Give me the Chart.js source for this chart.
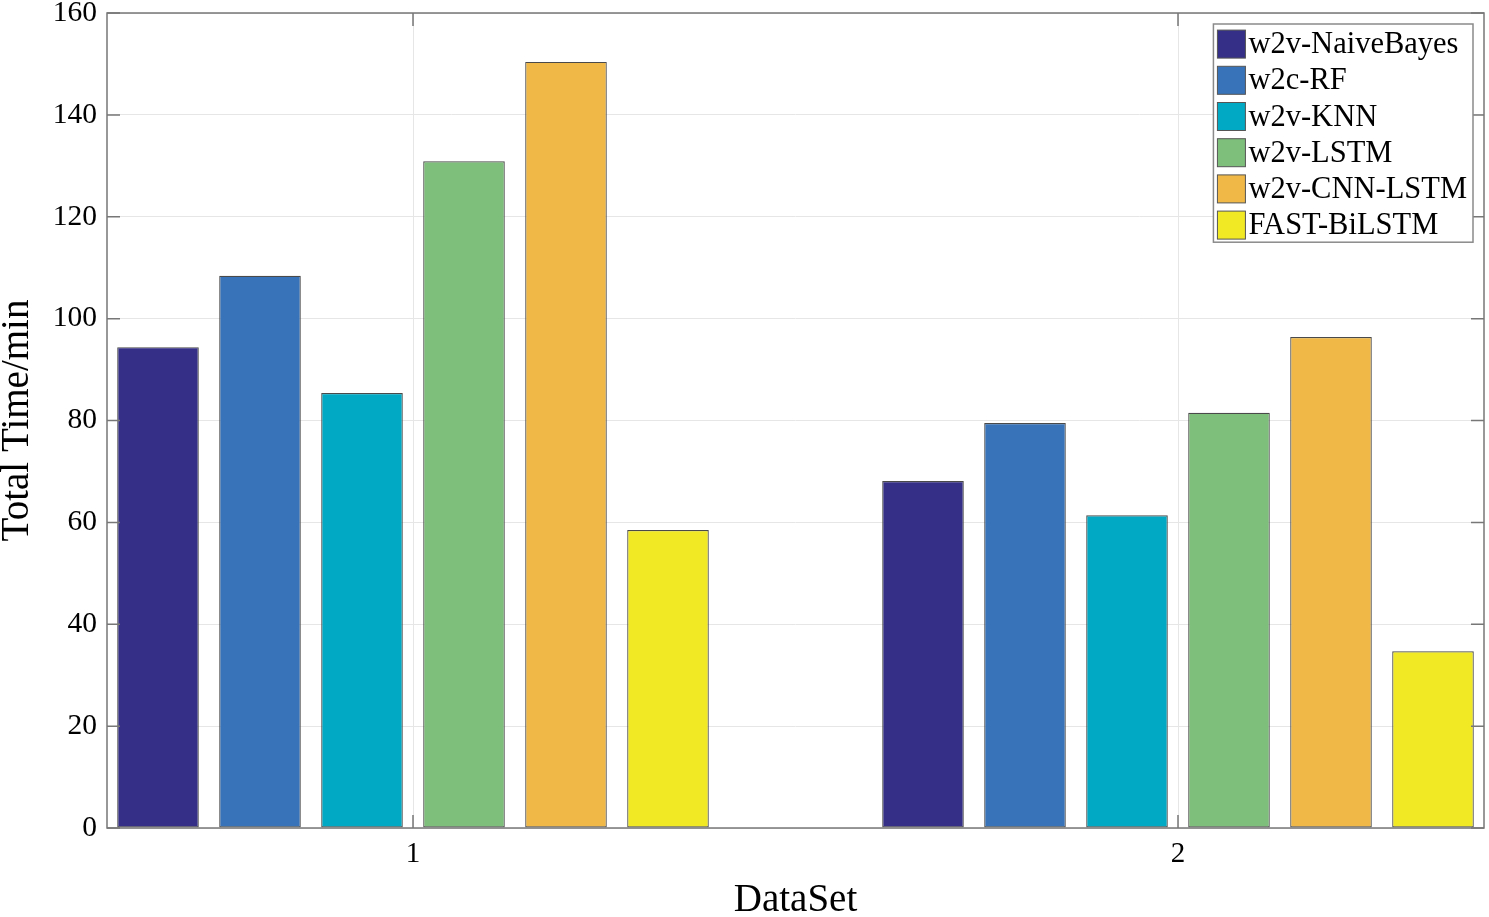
<!DOCTYPE html>
<html>
<head>
<meta charset="utf-8">
<script src="https://cdn.jsdelivr.net/npm/chart.js@4/dist/chart.umd.min.js"></script>
<style>
    html, body { margin: 0; padding: 0; background: #ffffff; }
    #wrap { width: 1489px; height: 917px; position: relative; }
</style>
</head>
<body>
<div id="wrap"><canvas id="chartTime"></canvas></div>
<script>
// data
const groups = [1, 2];
const seriesNames = ["w2v-NaiveBayes", "w2c-RF", "w2v-KNN", "w2v-LSTM", "w2v-CNN-LSTM", "FAST-BiLSTM"];
const naiveBayes = [94.4, 68.1];
const rf         = [108.4, 79.5];
const knn        = [85.4, 61.4];
const lstm       = [130.9, 81.5];
const cnnLstm    = [150.4, 96.4];
const fastBiLstm = [58.5, 34.7];
const yTicks     = [0, 20, 40, 60, 80, 100, 120, 140, 160];

const COLORS = ["#352F87", "#3873B9", "#02A9C4", "#7DBF7B", "#EFB847", "#F1E923"];
const FONT = "'Liberation Serif', 'Times New Roman', serif";
const AXIS = "#777777";

const allSeries = [naiveBayes, rf, knn, lstm, cnnLstm, fastBiLstm];

const datasets = allSeries.map((vals, i) => ({
    label: seriesNames[i],
    data: groups.map((g, j) => ({ x: g, y: vals[j] })),
    backgroundColor: COLORS[i],
    borderColor: "#4a4a4a",
    borderWidth: 1.2,
    borderSkipped: false,
    categoryPercentage: 0.8,
    barPercentage: 0.8,
}));

// frame, inward ticks (matlab style) and legend box
const matlabAxes = {
    id: "matlabAxes",
    afterDraw(chart) {
        const { ctx, chartArea: a, scales } = chart;
        const tl = 13;
        ctx.save();
        ctx.strokeStyle = AXIS;
        ctx.lineWidth = 1.5;
        ctx.strokeRect(a.left, a.top, a.right - a.left, a.bottom - a.top);
        ctx.beginPath();
        scales.y.ticks.forEach(t => {
            const py = scales.y.getPixelForValue(t.value);
            ctx.moveTo(a.left, py);  ctx.lineTo(a.left + tl, py);
            ctx.moveTo(a.right, py); ctx.lineTo(a.right - tl, py);
        });
        scales.x.ticks.forEach(t => {
            const px = scales.x.getPixelForValue(t.value);
            ctx.moveTo(px, a.bottom); ctx.lineTo(px, a.bottom - tl);
            ctx.moveTo(px, a.top);    ctx.lineTo(px, a.top + tl);
        });
        ctx.stroke();

        // legend
        ctx.font = "30.5px " + FONT;
        const ds = chart.data.datasets;
        const rowH = 36.2;
        const box = 28;
        const textW = Math.max(...ds.map(d => ctx.measureText(d.label).width));
        const w = 4 + box + 3 + textW + 6;
        const h = ds.length * rowH + 1;
        const x0 = a.right - 11 - w;
        const y0 = a.top + 11;
        ctx.fillStyle = "#ffffff";
        ctx.fillRect(x0, y0, w, h);
        ctx.strokeStyle = "#8a8a8a";
        ctx.lineWidth = 1.5;
        ctx.strokeRect(x0, y0, w, h);
        ctx.textBaseline = "middle";
        ctx.textAlign = "left";
        ds.forEach((d, i) => {
            const cy = y0 + 2 + rowH * i + rowH / 2;
            ctx.fillStyle = d.backgroundColor;
            ctx.fillRect(x0 + 4, cy - box / 2, box, box);
            ctx.strokeStyle = "#555555";
            ctx.lineWidth = 1;
            ctx.strokeRect(x0 + 4, cy - box / 2, box, box);
            ctx.fillStyle = "#000000";
            ctx.fillText(d.label, x0 + 4 + box + 3, cy + 1);
        });
        ctx.restore();
    }
};

new Chart(document.getElementById("chartTime"), {
    type: "bar",
    data: { datasets },
    plugins: [matlabAxes],
    options: {
        responsive: true,
        maintainAspectRatio: false,
        animation: false,
        layout: { padding: { top: 13, right: 5, left: 0, bottom: 0 } },
        scales: {
            x: {
                type: "linear",
                min: 0.6,
                max: 2.4,
                offset: false,
                afterFit: (s) => { s.height = 89; s.paddingLeft = 0; s.paddingRight = 0; },
                ticks: {
                    stepSize: 1,
                    includeBounds: false,
                    color: "#000000",
                    padding: 9,
                    font: { family: FONT, size: 29 },
                },
                grid: { color: "#e6e6e6", lineWidth: 1, drawTicks: false, offset: false },
                border: { display: false },
                title: {
                    display: true,
                    text: "DataSet",
                    color: "#000000",
                    font: { family: FONT, size: 39, lineHeight: 0.82 },
                    padding: { top: 0, bottom: 0 },
                },
            },
            y: {
                min: 0,
                max: 160,
                afterFit: (s) => { s.width = 107; s.paddingTop = 0; s.paddingBottom = 0; },
                afterBuildTicks: (s) => { s.ticks = yTicks.map(v => ({ value: v })); },
                ticks: {
                    color: "#000000",
                    padding: 10,
                    font: { family: FONT, size: 29.5 },
                },
                grid: { color: "#e6e6e6", lineWidth: 1, drawTicks: false },
                border: { display: false },
                title: {
                    display: true,
                    text: "Total Time/min",
                    color: "#000000",
                    font: { family: FONT, size: 39, lineHeight: 0.92 },
                    padding: { top: 0, bottom: 0 },
                },
            },
        },
        plugins: {
            legend: { display: false },
            tooltip: { enabled: false },
        },
    },
});
</script>
</body>
</html>
